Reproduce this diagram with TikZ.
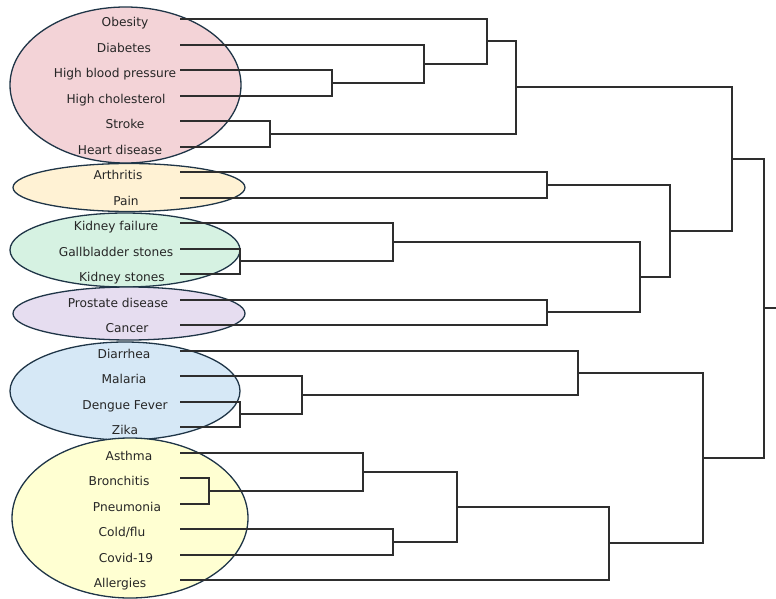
\documentclass[tikz,border=0pt]{standalone}
\usepackage{fontspec}
\setmainfont{DejaVu Sans}
\usetikzlibrary{shapes.geometric}
\definecolor{cpink}{HTML}{F3D3D7}
\definecolor{corange}{HTML}{FFF2D4}
\definecolor{cgreen}{HTML}{D6F2E2}
\definecolor{cpurple}{HTML}{E6DDF0}
\definecolor{cblue}{HTML}{D6E8F6}
\definecolor{cyellow}{HTML}{FFFFD2}
\definecolor{rim}{HTML}{1F3547}
\definecolor{tree}{HTML}{2E2E2E}
\tikzset{
  group/.style={ellipse, draw=rim, line width=1.3pt, inner sep=0pt},
  lab/.style={anchor=base, inner sep=0pt, font=\fontsize{12.2}{14}\selectfont, text=black!85},
  branch/.style={draw=tree, line width=1.5pt}
}
\begin{document}
\begin{tikzpicture}[x=1pt,y=-1pt]
\useasboundingbox (0,0) rectangle (776,599);
% groups
\node[group, fill=cpink, minimum width=231pt, minimum height=156pt] (g1) at (125.5,85) {};
\node[group, fill=corange, minimum width=232pt, minimum height=48pt] (g2) at (129,187.5) {};
\node[group, fill=cgreen, minimum width=230pt, minimum height=74pt] (g3) at (125,250) {};
\node[group, fill=cpurple, minimum width=232pt, minimum height=53pt] (g4) at (129,313.5) {};
\node[group, fill=cblue, minimum width=230pt, minimum height=98pt] (g5) at (125,391) {};
\node[group, fill=cyellow, minimum width=236pt, minimum height=160pt] (g6) at (130,518) {};
% labels
\node[lab] (t1) at (125,26.5) {Obesity};
\node[lab] (t2) at (124,52.5) {Diabetes};
\node[lab] (t3) at (115,77.5) {High blood pressure};
\node[lab] (t4) at (116,103.5) {High cholesterol};
\node[lab] (t5) at (125,128.5) {Stroke};
\node[lab] (t6) at (120,154.5) {Heart disease};
\node[lab] (t7) at (118,179.5) {Arthritis};
\node[lab] (t8) at (126,205.5) {Pain};
\node[lab] (t9) at (116,230.5) {Kidney failure};
\node[lab] (t10) at (116,256.5) {Gallbladder stones};
\node[lab] (t11) at (122,281.5) {Kidney stones};
\node[lab] (t12) at (118,307.5) {Prostate disease};
\node[lab] (t13) at (127,332.5) {Cancer};
\node[lab] (t14) at (124,358.5) {Diarrhea};
\node[lab] (t15) at (124,383.5) {Malaria};
\node[lab] (t16) at (125,409.5) {Dengue Fever};
\node[lab] (t17) at (125,434.5) {Zika};
\node[lab] (t18) at (129,460.5) {Asthma};
\node[lab] (t19) at (119,485.5) {Bronchitis};
\node[lab] (t20) at (127,511.5) {Pneumonia};
\node[lab] (t21) at (122,536.5) {Cold/flu};
\node[lab] (t22) at (126,562.5) {Covid-19};
\node[lab] (t23) at (120,587.5) {Allergies};
% leaf line starts
\foreach \i/\y in {1/19,2/45,3/70,4/96,5/121,6/147,7/172,8/198,9/223,10/249,11/274,12/300,13/325,14/351,15/376,16/402,17/427,18/453,19/478,20/504,21/529,22/555,23/580}
  \coordinate (s\i) at (180,\y);
% merge points
\coordinate (mSH) at (270,134);
\coordinate (mHH) at (332,83);
\coordinate (mD) at (424,64);
\coordinate (mO) at (487,41);
\coordinate (mC1) at (516,87);
\coordinate (mAP) at (547,185);
\coordinate (mGK) at (240,261);
\coordinate (mKF) at (393,242);
\coordinate (mPC) at (547,312);
\coordinate (mK) at (640,277);
\coordinate (mK2) at (670,231);
\coordinate (mU) at (732,159);
\coordinate (mDZ) at (240,414);
\coordinate (mM) at (302,395);
\coordinate (mDi) at (578,373);
\coordinate (mBP) at (209,491);
\coordinate (mAs) at (363,472);
\coordinate (mCC) at (393,542);
\coordinate (mR) at (457,507);
\coordinate (mAl) at (609,543);
\coordinate (mL) at (703,458);
\coordinate (root) at (764,308);
\coordinate (rootend) at (776,308);
% tree
\path[branch] (s5) -| (mSH) |- (s6);
\path[branch] (s3) -| (mHH) |- (s4);
\path[branch] (s2) -| (mD) |- (mHH);
\path[branch] (s1) -| (mO) |- (mD);
\path[branch] (mO) -| (mC1) |- (mSH);
\path[branch] (s7) -| (mAP) |- (s8);
\path[branch] (s10) -| (mGK) |- (s11);
\path[branch] (s9) -| (mKF) |- (mGK);
\path[branch] (s12) -| (mPC) |- (s13);
\path[branch] (mKF) -| (mK) |- (mPC);
\path[branch] (mAP) -| (mK2) |- (mK);
\path[branch] (mC1) -| (mU) |- (mK2);
\path[branch] (s16) -| (mDZ) |- (s17);
\path[branch] (s15) -| (mM) |- (mDZ);
\path[branch] (s14) -| (mDi) |- (mM);
\path[branch] (s19) -| (mBP) |- (s20);
\path[branch] (s18) -| (mAs) |- (mBP);
\path[branch] (s21) -| (mCC) |- (s22);
\path[branch] (mAs) -| (mR) |- (mCC);
\path[branch] (mR) -| (mAl) |- (s23);
\path[branch] (mDi) -| (mL) |- (mAl);
\path[branch] (mU) -| (root) |- (mL);
\path[branch] (root) -- (rootend);
\end{tikzpicture}
\end{document}
